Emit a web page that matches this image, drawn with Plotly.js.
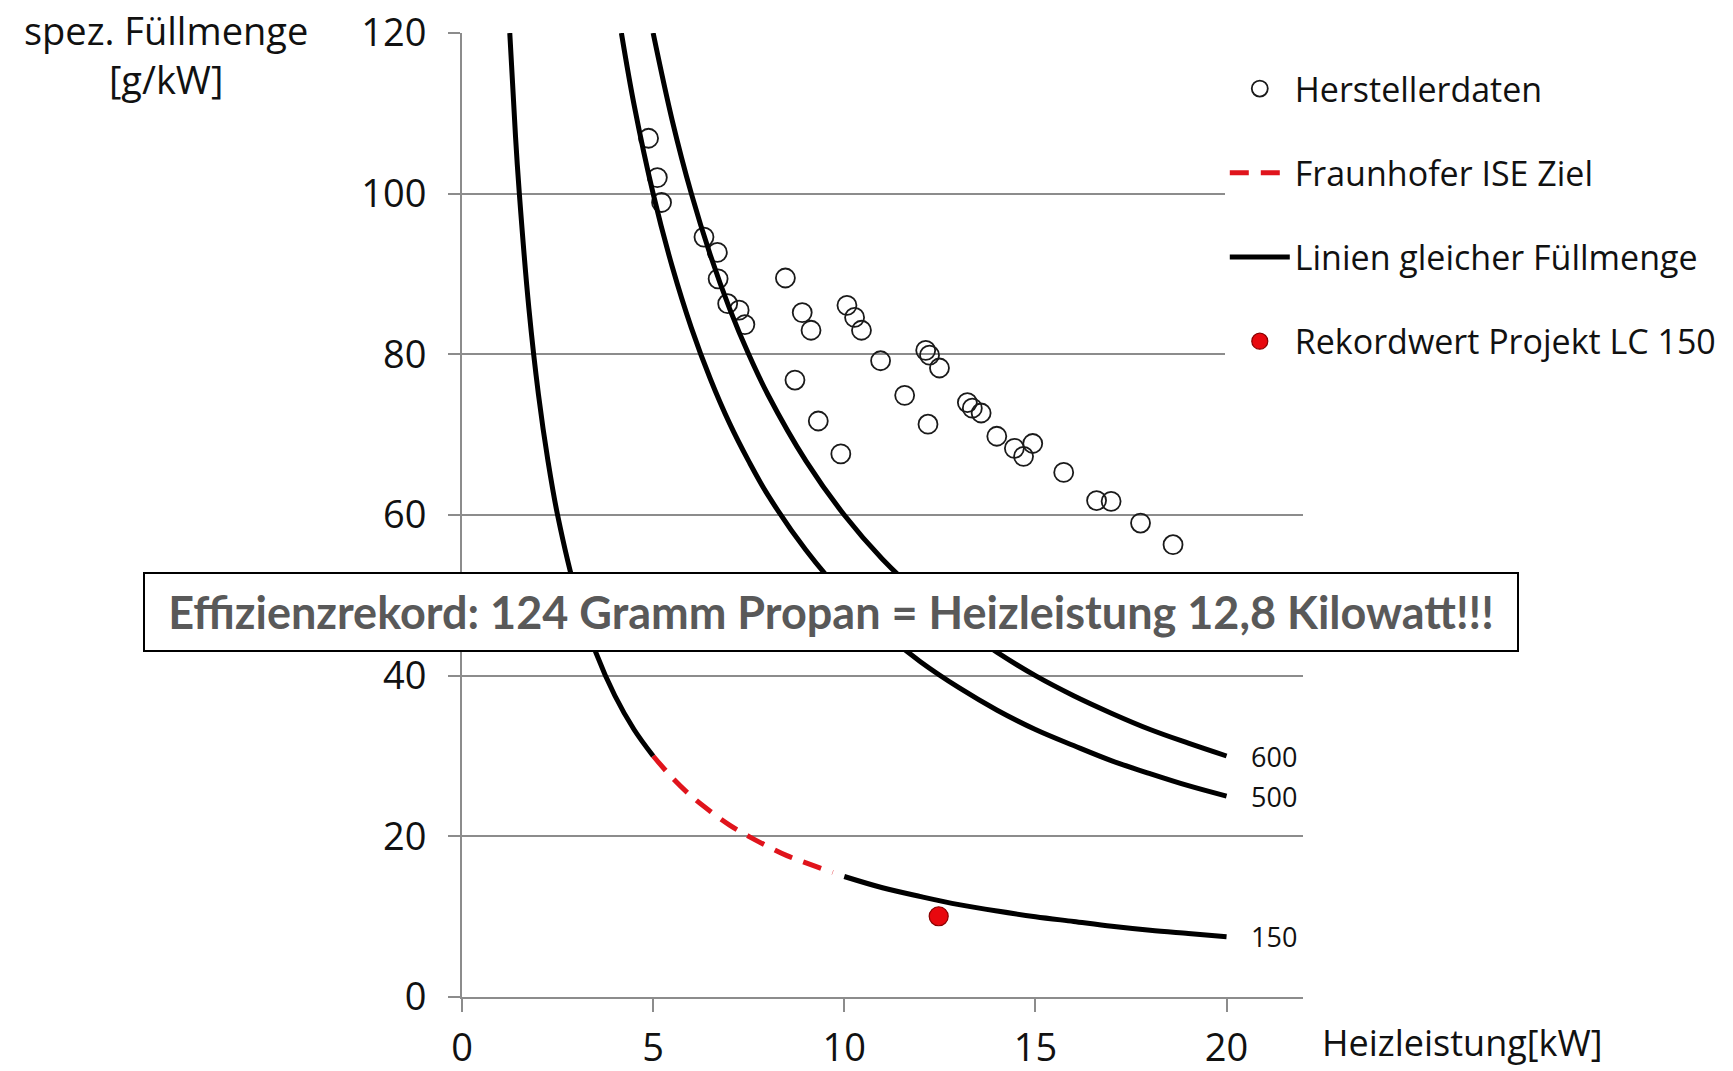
<!DOCTYPE html>
<html>
<head>
<meta charset="utf-8">
<script src="https://cdn.plot.ly/plotly-3.0.1.min.js"></script>
<style>html,body{margin:0;padding:0;background:#fff;}#chart{width:1733px;height:1071px;}</style>
</head>
<body>
<div id="chart"></div>
<script>
// Herstellerdaten (manufacturer data): Heizleistung [kW] / spez. Füllmenge [g/kW]
const herstellerX = [4.88, 5.11, 5.22, 6.33, 6.68, 6.70, 6.95, 7.25, 7.40, 8.46, 8.90, 9.13,
  10.07, 10.27, 10.45, 10.95, 12.13, 12.23, 12.49, 8.71, 9.32, 9.91, 11.58, 12.19,
  13.22, 13.35, 13.58, 13.99, 14.45, 14.69, 14.93, 15.74, 16.60, 16.98, 17.75, 18.60];
const herstellerY = [106.9, 102.0, 98.9, 94.6, 92.7, 89.4, 86.3, 85.5, 83.7, 89.5, 85.2, 83.0,
  86.1, 84.6, 83.0, 79.2, 80.5, 79.9, 78.3, 76.8, 71.7, 67.6, 74.9, 71.3,
  74.0, 73.3, 72.7, 69.8, 68.3, 67.3, 68.9, 65.3, 61.8, 61.7, 59.0, 56.3];

// Linien gleicher Füllmenge: 600 g
const line600X = [5, 5.5, 6, 6.5, 7, 7.5, 8, 9, 10, 11, 12, 13, 14, 15, 16, 17, 18, 19, 20];
const line600Y = [120, 109.1, 100, 92.3, 85.7, 80, 75, 66.7, 60, 54.5, 50, 46.2, 42.9, 40, 37.5, 35.3, 33.3, 31.6, 30];
// 500 g
const line500X = [4.17, 4.5, 5, 5.5, 6, 6.5, 7, 7.5, 8, 9, 10, 11, 12, 13, 14, 15, 16, 17, 18, 19, 20];
const line500Y = [120, 111.1, 100, 90.9, 83.3, 76.9, 71.4, 66.7, 62.5, 55.6, 50, 45.5, 41.7, 38.5, 35.7, 33.3, 31.3, 29.4, 27.8, 26.3, 25];
// 150 g, left solid part
const line150aX = [1.25, 1.4, 1.5, 1.75, 2, 2.25, 2.5, 3, 3.5, 4, 4.5, 5];
const line150aY = [120, 107.1, 100, 85.7, 75, 66.7, 60, 50, 42.9, 37.5, 33.3, 30];
// 150 g, right solid part
const line150bX = [10, 11, 12, 13, 14, 15, 16, 17, 18, 19, 20];
const line150bY = [15, 13.6, 12.5, 11.5, 10.7, 10, 9.4, 8.8, 8.3, 7.9, 7.5];

// Fraunhofer ISE Ziel (dashed part of the 150 g line)
const zielX = [5, 5.5, 6, 6.5, 7, 7.5, 8, 8.5, 9, 9.7];
const zielY = [30, 27.3, 25, 23.1, 21.4, 20, 18.75, 17.6, 16.7, 15.5];

// Rekordwert Projekt LC 150
const rekordX = [12.47];
const rekordY = [10.05];

// curve labels
const curveLabels = ['600', '500', '150'];
const curveLabelX = [20, 20, 20];
const curveLabelY = [30, 25, 7.5];

const yTicks = [0, 20, 40, 60, 80, 100, 120];
const xTicks = [0, 5, 10, 15, 20];

const FONT = 'Open Sans, Noto Sans, sans-serif';

// combine equal-fill lines into one trace with gaps
const linesX = [].concat(line600X, [null], line500X, [null], line150aX, [null], line150bX);
const linesY = [].concat(line600Y, [null], line500Y, [null], line150aY, [null], line150bY);

const traces = [
  {
    x: herstellerX, y: herstellerY, type: 'scatter', mode: 'markers',
    name: 'Herstellerdaten', legendgroup: 'a',
    marker: {symbol: 'circle-open', size: 19, color: '#1a1a1a', line: {width: 1.8, color: '#1a1a1a'}},
    cliponaxis: false
  },
  {
    x: zielX, y: zielY, type: 'scatter', mode: 'lines',
    name: 'Fraunhofer ISE Ziel', legendgroup: 'b',
    line: {color: '#e0141c', width: 5, dash: '19px,12px', shape: 'spline'}
  },
  {
    x: linesX, y: linesY, type: 'scatter', mode: 'lines',
    name: 'Linien gleicher Füllmenge', legendgroup: 'c',
    connectgaps: false,
    line: {color: '#000', width: 5, shape: 'spline'}
  },
  {
    x: rekordX, y: rekordY, type: 'scatter', mode: 'markers',
    name: 'Rekordwert Projekt LC 150', legendgroup: 'd',
    marker: {symbol: 'circle', size: 19, color: '#e8080e', line: {width: 1.2, color: '#8a0000'}}
  }
];

const annotations = [];
for (let i = 0; i < curveLabels.length; i++) {
  annotations.push({
    x: curveLabelX[i], y: curveLabelY[i], xref: 'x', yref: 'y',
    text: curveLabels[i], showarrow: false, xanchor: 'left', yanchor: 'middle',
    xshift: 22, font: {family: 'Liberation Sans Narrow, Open Sans, sans-serif', size: 27, color: '#111'}
  });
}
annotations.push({
  x: -0.352, y: 0.978, xref: 'paper', yref: 'paper',
  text: 'spez. Füllmenge<br>[g/kW]', showarrow: false, align: 'center',
  xanchor: 'center', yanchor: 'middle',
  font: {family: FONT, size: 38, color: '#111'}
});
annotations.push({
  x: 1.020, y: -0.047, xref: 'paper', yref: 'paper',
  text: 'Heizleistung[kW]', showarrow: false,
  xanchor: 'left', yanchor: 'middle',
  font: {family: FONT, size: 36, color: '#111'}
});
annotations.push({
  x: 0.439, y: 0.399, xref: 'paper', yref: 'paper',
  text: '<b>Effizienzrekord: 124 Gramm Propan = Heizleistung 12,8 Kilowatt!!!</b>',
  showarrow: false, xanchor: 'center', yanchor: 'middle',
  width: 1368, height: 72, borderpad: 2, align: 'center',
  bgcolor: '#ffffff', bordercolor: '#000000', borderwidth: 2,
  font: {family: 'Lato, Open Sans, sans-serif', size: 45, color: '#595959'}
});

const layout = {
  width: 1733, height: 1071,
  margin: {l: 462, r: 430, t: 33, b: 74, pad: 0},
  paper_bgcolor: '#ffffff', plot_bgcolor: '#ffffff',
  showlegend: true,
  legend: {
    x: 0.907, y: 0.972, xanchor: 'left', yanchor: 'top',
    bgcolor: '#ffffff', borderwidth: 0,
    font: {family: FONT, size: 34, color: '#111'},
    traceorder: 'grouped', tracegroupgap: 37, itemwidth: 60
  },
  xaxis: {
    range: [0, 22], tickvals: xTicks, ticktext: xTicks.map(String),
    showgrid: false, zeroline: false,
    showline: true, linecolor: '#8c8c8c', linewidth: 2,
    ticks: 'outside', ticklen: 13, tickwidth: 2, tickcolor: '#8c8c8c',
    ticklabelstandoff: 3,
    tickfont: {family: FONT, size: 38, color: '#111'}
  },
  yaxis: {
    range: [0, 120], tickvals: yTicks, ticktext: yTicks.map(String),
    showgrid: true, gridcolor: '#8c8c8c', gridwidth: 2, zeroline: false,
    showline: true, linecolor: '#8c8c8c', linewidth: 2,
    ticks: 'outside', ticklen: 12, tickwidth: 2, tickcolor: '#8c8c8c',
    ticklabelstandoff: 14,
    tickfont: {family: FONT, size: 38, color: '#111'}
  },
  annotations: annotations
};

Plotly.newPlot('chart', traces, layout, {displayModeBar: false, staticPlot: true});
</script>
</body>
</html>
